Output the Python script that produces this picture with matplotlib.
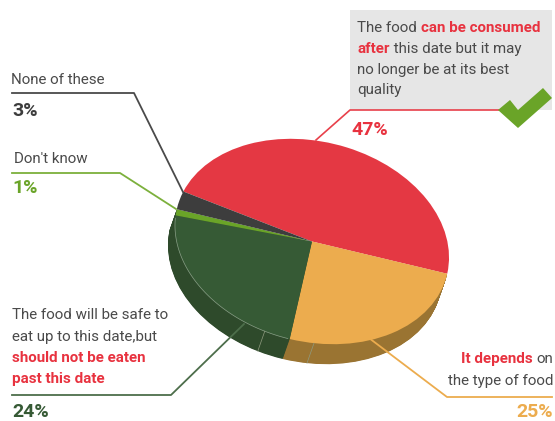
import matplotlib
matplotlib.use('Agg')
import numpy as np
import matplotlib.pyplot as plt
from matplotlib.patches import Rectangle, Polygon
from matplotlib.transforms import Affine2D

plt.rcParams['font.family'] = ['Roboto', 'DejaVu Sans']

# Data, clockwise from the left edge of the red slice
categories = ['can be consumed after', 'It depends', 'will be safe', "Don't know", 'None of these']
shares = [47, 25, 24, 1, 3]
top_colors = ['#e43843', '#ecac4e', '#365a35', '#6aa428', '#3d3d3d']
side_colors = ['none', '#9a7432', '#2e4a2b', '#2e4a2b', 'none']

DARK = '#4a4a4a'
RED = '#e8323f'
SIZE = 10.9
PCT_SIZE = 14

# Tilted ellipse: unit circle to pixel coordinates
CENTER = (312, 241.5)
TILT = 14
RX, RY = 139, 100
SHIFT = (-7, 20)
START_ANGLE = 170


def pie_transform(ax, t=0.0):
    return (Affine2D().scale(RX, -RY).rotate_deg(TILT)
            .translate(CENTER[0] + SHIFT[0] * t, CENTER[1] + SHIFT[1] * t) + ax.transData)


def draw_pie(ax, colors, t=0.0):
    wedges, _ = ax.pie(shares, colors=colors, startangle=START_ANGLE, counterclock=False,
                       radius=1, frame=True, wedgeprops={'linewidth': 0})
    tr = pie_transform(ax, t)
    for w in wedges:
        w.set_transform(tr)
        w.set_clip_on(False)


def rich_line(ax, x, y, parts, right=False):
    # parts is a list of (text, colour, bold) drawn one after the other
    rend = ax.figure.canvas.get_renderer()
    items = []
    total = 0
    for s, c, b in parts:
        t = ax.text(x, y, s, color=c, fontsize=SIZE, fontweight='bold' if b else 'normal',
                    va='baseline', ha='left')
        adv = t.get_window_extent(rend).width
        items.append((t, adv))
        total += adv
    cx = x - total if right else x
    for t, adv in items:
        t.set_x(cx)
        cx += adv


fig = plt.figure(figsize=(5.55, 4.21), dpi=100)
ax = fig.add_axes([0, 0, 1, 1])

for t in np.linspace(1, 0.02, 40):
    draw_pie(ax, side_colors, t)
draw_pie(ax, top_colors)

ax.set_xlim(0, 555)
ax.set_ylim(421, 0)
ax.set_aspect('auto')
ax.axis('off')

# thin light rim on the green slice, and the seams on the side
rim = np.radians(np.linspace(-174, -90, 80))
ax.plot(np.cos(rim), np.sin(rim), transform=pie_transform(ax), color='#8aa088', lw=0.5, zorder=3)
for deg in [-100, -79]:
    a = np.radians(deg)
    p = [np.cos(a), np.sin(a)]
    seam = np.array([pie_transform(ax, 0).transform(p), pie_transform(ax, 1).transform(p)])
    seam = ax.transData.inverted().transform(seam)
    ax.plot(seam[:, 0], seam[:, 1], color='#8f9a7f', lw=0.5, zorder=3)

# callout box and red leader
ax.add_patch(Rectangle((350, 10), 202, 100, color='#e6e6e6', lw=0, zorder=3))
ax.plot([316, 350, 500], [140, 110, 110], color='#e8404a', lw=1.2, zorder=4)

# check mark
ax.add_patch(Polygon([(498, 110), (510, 100), (518, 110), (543, 88), (552, 98), (518, 128)],
                     closed=True, color='#6aa428', lw=0, zorder=5))

# leaders
ax.plot([12, 134, 183], [93, 93, 192], color='#4a4a4a', lw=1.3, zorder=4)
ax.plot([12, 120, 176], [173, 173, 209], color='#7cb03c', lw=1.3, zorder=4)
ax.plot([12, 171, 244], [395, 395, 324], color='#4d6e4b', lw=1.3, zorder=4)
ax.plot([365, 447, 552], [335, 397, 397], color='#ecac4e', lw=1.3, zorder=4)

# labels
rich_line(ax, 357, 32, [('The food ', DARK, False), ('can be consumed', RED, True)])
rich_line(ax, 357, 53, [('after', RED, True), (' this date but it may', DARK, False)])
rich_line(ax, 357, 74, [('no longer be at its best', DARK, False)])
rich_line(ax, 357, 94, [('quality', DARK, False)])
ax.text(351, 135, '47%', color=RED, fontsize=PCT_SIZE, fontweight='bold')

rich_line(ax, 11, 84, [('None of these', DARK, False)])
ax.text(12, 116, '3%', color='#3d3d3d', fontsize=PCT_SIZE, fontweight='bold')
rich_line(ax, 14, 163, [("Don't know", DARK, False)])
ax.text(12, 193, '1%', color='#6aa428', fontsize=PCT_SIZE, fontweight='bold')

rich_line(ax, 12, 319, [('The food will be safe to', DARK, False)])
rich_line(ax, 12, 341, [('eat up to this date,but', DARK, False)])
rich_line(ax, 12, 362, [('should not be eaten', RED, True)])
rich_line(ax, 12, 383, [('past this date', RED, True)])
ax.text(12, 417, '24%', color='#365a35', fontsize=PCT_SIZE, fontweight='bold')

rich_line(ax, 553, 363, [('It depends ', RED, True), ('on', DARK, False)], right=True)
ax.text(553, 385, 'the type of food', color=DARK, fontsize=SIZE, ha='right')
ax.text(553, 417, '25%', color='#ecac4e', fontsize=PCT_SIZE, fontweight='bold', ha='right')

fig.savefig('out.png', dpi=100)
